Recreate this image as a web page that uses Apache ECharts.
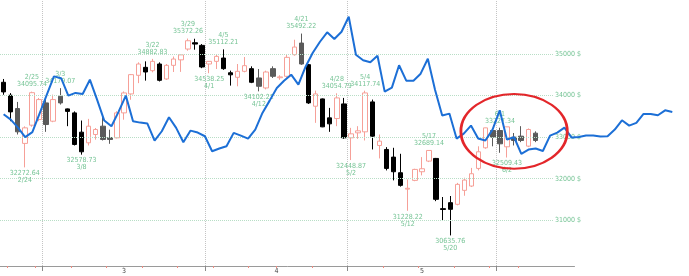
<!DOCTYPE html>
<html><head><meta charset="utf-8">
<script src="https://cdn.jsdelivr.net/npm/echarts@6/dist/echarts.min.js"></script>
<style>html,body{margin:0;padding:0;background:#fff}#c{width:689px;height:276px}</style>
</head><body><div id="c"></div>
<script>
// ---- data ----
const dates = ['2/18','2/22','2/23','2/24','2/25','2/28','3/1','3/2','3/3','3/4','3/7','3/8','3/9','3/10','3/11','3/14','3/15','3/16','3/17','3/18','3/21','3/22','3/23','3/24','3/25','3/28','3/29','3/30','3/31','4/1','4/4','4/5','4/6','4/7','4/8','4/11','4/12','4/13','4/14','4/18','4/19','4/20','4/21','4/22','4/25','4/26','4/27','4/28','4/29','5/2','5/3','5/4','5/5','5/6','5/9','5/10','5/11','5/12','5/13','5/16','5/17','5/18','5/19','5/20','5/23','5/24','5/25','5/26','5/27','5/31','6/1','6/2','6/3','6/6','6/7','6/8','6/9','6/10'];
const opens  = [34320,34008,33688,32850,33288,33424,33824,33384,33984,33680,33584,33120,32864,33064,33264,32990,32984,33584,34040,34488,34680,34600,34760,34400,34728,34860,35120,35272,35208,34760,34824,34904,34550,34440,34584,34648,34424,34184,34648,34430,34464,34984,35264,34744,33744,33920,33464,33448,33800,32984,33104,33128,33848,32800,32704,32520,32144,31750,31960,32168,32424,32488,31280,31424,31384,31720,31824,32248,32744,33160,33160,32768,33000,33024,32784,33096];
const closes = [34088,33608,33128,33224,34070,33904,33304,33904,33824,33620,32824,32648,33264,33184,32944,32944,33584,34064,34504,34760,34568,34824,34368,34728,34880,34980,35320,35240,34688,34824,34944,34648,34500,34584,34720,34320,34224,34568,34464,34450,34920,35168,34760,33824,34040,33248,33320,33944,32984,33080,33152,34064,33024,32904,32248,32168,31840,31770,32224,32240,32680,31504,31260,31264,31864,31968,32120,32648,33224,33000,32840,33248,32920,32920,33184,32920];
const lows   = [34020,33384,33064,32272.64,33250,33384,33128,33360,33784,33264,32800,32578.73,32800,32940,32920,32840,32970,33420,33900,34300,34360,34560,34340,34380,34568,34570,35080,35104,34660,34538.25,34640,34620,34240,34224,34560,34300,34102.21,34150,34424,34380,34430,34960,34740,33800,33344,33240,33128,33264,32960,32448.87,32960,32920,32704,32488,32200,31960,31810,31228.22,31940,32080,32400,31460,30984,30635.76,31360,31590,31800,32200,32720,32780,32624,32509.43,32800,32880,32760,32880];
const highs  = [34400,34060,33848,33260,34095.74,33944,33904,34024,34179.07,33690,33620,33400,33440,33220,33544,33180,33624,34100,34520,34800,34824,34882.83,34800,34760,34940,35000,35372.26,35368,35240,34830,35000,35112.21,34600,34760,34928,34704,34640,34600,34704,34490,34984,35344,35492.22,34760,34120,33930,33704,34054.79,33944,33224,33264,34117.74,33904,33064,32760,32744,32600,31984,32240,32520,32689.14,32500,31560,31584,31900,32024,32260,32780,33220,33220,33227.34,33250,33100,33264,33210,33140];
const mutedDownDays = ['2/23','3/1','3/3','3/11','3/14','4/12','4/14','4/21','5/31','6/1','6/3','6/6','6/8'];
const highMarks = ['2/25','3/3','3/22','3/29','4/5','4/21','4/28','5/4','5/17','6/1'];
const lowMarks  = ['2/24','3/8','4/1','4/12','5/2','5/12','5/20','6/2'];
const compareLine = [33550,33423,33230,33002,33122,33567,34016,34462,34419,33999,
 34064,34040,34383,33903,33399,33262,33615,33999,33382,33350,
 33326,32918,33142,33478,33223,32878,33158,33110,33022,32661,
 32726,32781,33103,33038,32966,33182,33583,33879,34184,34359,
 34503,34263,34695,35031,35295,35523,35360,35535,35896,34983,
 34851,34803,34959,34095,34191,34731,34359,34359,34527,34887,
 34143,33519,33567,32966,33086,33278,32966,32918,33182,33646,
 32942,32998,32599,32702,32726,32666,33038,33110,33230,32990,
 33002,33038,33038,33014,33022,33182,33406,33278,33343,33559,
 33559,33526,33646,33607];
const priceTicks = [31000,32000,33000,34000,35000];
const monthLabels = ['3','4','5'];
const circleNote = {center:['6/3', 33140], halfDays:7.5, halfRange:900};

// ---- derived helpers ----
const mon = d => +d.split('/')[0];
const wd = d => new Date(2022, mon(d)-1, +d.split('/')[1]).getDay();
const monthBounds = [], weekBounds = [];
for (let i = 1; i < dates.length; i++) {
  if (mon(dates[i]) !== mon(dates[i-1])) monthBounds.push(i - 0.5);
  else if (wd(dates[i]) < wd(dates[i-1])) weekBounds.push(i - 0.5);
}
if (wd(dates[1]) < wd(dates[0])) weekBounds.unshift(0.5);
const monthMid = {};
monthLabels.forEach(m => {
  const idx = dates.map((d,i)=>mon(d)===+m?i:-1).filter(i=>i>=0);
  monthMid[(idx[0]+idx[idx.length-1])/2] = m;
});
const labelPos = Object.keys(monthMid).map(Number);

const F = "'Liberation Sans Narrow','DejaVu Sans Condensed','Liberation Sans',sans-serif";
const GREEN = '#74c394';
const band = 7.14, left0 = -3.84, band2 = 7.324, left2 = -12.56;
const yMin = 29900, yMax = 36300;

const candleData = opens.map((o,i)=>{
  const item = {value:[o, closes[i], lows[i], highs[i]]};
  if (mutedDownDays.includes(dates[i])) item.itemStyle = {color0:'#5a5a5a', borderColor0:'#5a5a5a'};
  return item;
});
const mp = [];
highMarks.forEach(d=>{ const i = dates.indexOf(d); mp.push({coord:[d, highs[i]], label:{position:'top', distance:3, formatter: d+'\n'+highs[i].toFixed(2)}}); });
lowMarks.forEach(d=>{ const i = dates.indexOf(d); mp.push({coord:[d, lows[i]], label:{position:'bottom', distance:2, formatter: lows[i].toFixed(2)+'\n'+d}}); });

const chart = echarts.init(document.getElementById('c'), null, {renderer:'canvas'});
chart.setOption({
  animation:false,
  backgroundColor:'#fff',
  grid:[
    {left:left0, top:0, width:78*band, height:266},
    {left:left0, top:0, width:81*band, height:266},
    {left:left2, top:0, width:compareLine.length*band2, height:266}
  ],
  xAxis:[
    {type:'category', gridIndex:0, data:dates, show:false, boundaryGap:true},
    {type:'value', gridIndex:1, min:-0.5, max:80.5, position:'bottom',
      axisLine:{show:true, lineStyle:{color:'#9a9a9a', width:1}},
      axisTick:{show:true, customValues:monthBounds, length:5, lineStyle:{color:'#8a8a8a'}},
      axisLabel:{show:true, customValues:labelPos, formatter:v=>monthMid[v]||'', fontSize:7, fontFamily:F, color:'#444', margin:2},
      splitLine:{show:false}},
    {type:'value', gridIndex:1, min:-0.5, max:80.5, position:'bottom',
      axisLine:{show:false},
      axisTick:{show:true, customValues:weekBounds, length:2, lineStyle:{color:'#f08a80'}},
      axisLabel:{show:false}, splitLine:{show:false}},
    {type:'category', gridIndex:2, data:compareLine.map((v,i)=>String(i)), show:false, boundaryGap:true}
  ],
  yAxis:[
    {type:'value', gridIndex:0, min:yMin, max:yMax, position:'right',
      axisLine:{show:false}, axisTick:{show:false}, splitLine:{show:false},
      axisLabel:{show:true, customValues:priceTicks, formatter:v=>String(v)+' $', fontSize:7, fontFamily:F, color:GREEN, margin:2}},
    {type:'value', gridIndex:1, min:0, max:1, show:false},
    {type:'value', gridIndex:2, min:yMin, max:yMax, show:false}
  ],
  series:[
    {type:'line', xAxisIndex:1, yAxisIndex:1, data:[], silent:true, z:1,
      markLine:{silent:true, symbol:['none','none'], label:{show:false},
        lineStyle:{color:'#c4c4c4', type:'dotted', width:1},
        data: monthBounds.map(x=>({xAxis:x}))}},
    {type:'candlestick', xAxisIndex:0, yAxisIndex:0, data:candleData, barWidth:5, z:3,
      itemStyle:{color:'#fff', color0:'#000', borderColor:'#f6a098', borderColor0:'#000', borderWidth:1},
      markLine:{silent:true, symbol:['none','none'], label:{show:false},
        lineStyle:{color:'#b8dec6', type:'dotted', width:1},
        data: priceTicks.map(v=>({yAxis:v}))},
      markPoint:{symbol:'circle', symbolSize:1, itemStyle:{color:'rgba(0,0,0,0)'}, silent:true,
        label:{show:true, fontSize:7, lineHeight:7, fontFamily:F, color:GREEN, align:'center'},
        data: mp}},
    {type:'line', xAxisIndex:3, yAxisIndex:2, data:compareLine, symbol:'none', z:5, silent:true,
      lineStyle:{color:'#1c6fd6', width:2}}
  ]
});

// red annotation ellipse around the early-June range
const c = chart.convertToPixel({xAxisIndex:0, yAxisIndex:0}, circleNote.center);
const c2 = chart.convertToPixel({xAxisIndex:0, yAxisIndex:0}, [dates[dates.indexOf(circleNote.center[0])+1], circleNote.center[1] + circleNote.halfRange]);
const rx = (c2[0]-c[0]) * circleNote.halfDays;
const ry = c[1]-c2[1];
chart.setOption({graphic:[{type:'circle', x:c[0], y:c[1], scaleX:rx/ry, scaleY:1, z:100,
  shape:{cx:0, cy:0, r:ry}, style:{fill:'none', stroke:'#e3262a', lineWidth:2, strokeNoScale:true}}]});
</script></body></html>
